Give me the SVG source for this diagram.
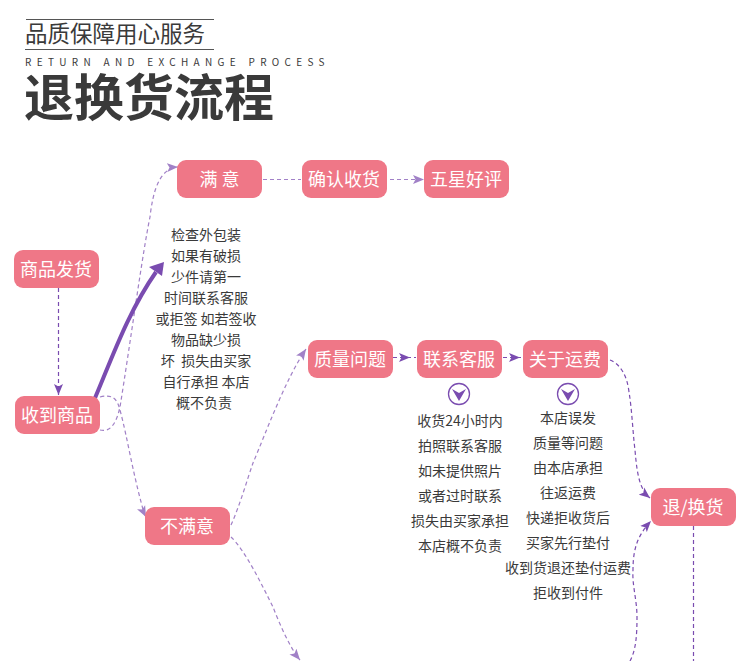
<svg xmlns="http://www.w3.org/2000/svg" width="750" height="661" viewBox="0 0 750 661">
<style>
text{font-family:"Noto Sans CJK SC","Noto Sans",sans-serif}
.n rect{fill:#ef7787}
.n text{fill:#fff;font-size:18px;text-anchor:middle}
.b{fill:#3a3a3a;font-size:14px;text-anchor:middle}
.c{fill:none;stroke:#7a4cb0;stroke-width:1.2;stroke-dasharray:4 3}
.l{opacity:.7}
.i circle{fill:#fff;stroke:#7a4cb0;stroke-width:1.3}
.i path{fill:#7a4cb0}
</style>
<defs>
<marker id="a" markerWidth="12" markerHeight="10" refX="11" refY="5" orient="auto" markerUnits="userSpaceOnUse"><path d="M0 .5L11 5L0 9.500L2.500 5Z" fill="#7a4cb0"/></marker>
</defs>
<g id="title">
<path d="M26 19.500H214M25 49.500H214" stroke="#555" stroke-width="1" fill="none"/>
<text x="25" y="42" font-size="22.500" fill="#3a3a3a">品质保障用心服务</text>
<text x="25" y="66" font-size="10" fill="#3a3a3a" letter-spacing="5.320">RETURN AND EXCHANGE PROCESS</text>
<text x="24" y="116" font-size="50" font-weight="700" fill="#3a3a3a">退换货流程</text>
</g>
<g id="connectors">
<path class="c" d="M58.500 288V395" marker-end="url(#a)"/>
<path d="M95 398C112 358 128 312 156 272" fill="none" stroke="#7a4cb0" stroke-width="4"/>
<path d="M164 262L149 267L162 276Z" fill="#7a4cb0"/>
<path class="c l" d="M100 430C112 433 117 420 120 407C130 345 143 250 150 217C153 190 160 168 178 167" marker-end="url(#a)"/>
<path class="c l" d="M100 397C112 394 117 398 120 410C128 440 132 470 144 513L146 517" marker-end="url(#a)"/>
<path class="c l" d="M263 179.500H301"/>
<path class="c l" d="M390 179.500H424" marker-end="url(#a)"/>
<path class="c l" d="M231 525C240 505 247 480 253 463C265 435 285 380 306 349" marker-end="url(#a)"/>
<path class="c l" d="M231 537C245 550 262 585 273 607C280 625 290 648 300 660" marker-end="url(#a)"/>
<path class="c" d="M393 357.500H410L416 357.500" marker-mid="url(#a)"/>
<path class="c" d="M503 357.500H520L522 357.500" marker-mid="url(#a)"/>
<path class="c" d="M610 360C620 364 627 375 629 392C632 410 633 435 635 450C637 475 640 490 650 498" marker-end="url(#a)"/>
<path class="c" d="M630 661C636 650 637 635 637 617C637 600 632 585 633 570C633 548 638 535 651 521" marker-end="url(#a)"/>
<path class="c" d="M693.500 526V661"/>
</g>
<g id="n1" class="n"><rect x="14" y="250" width="85" height="38" rx="9"/><text x="56" y="275.500">商品发货</text></g>
<g id="n2" class="n"><rect x="15" y="396" width="85" height="38" rx="9"/><text x="57" y="421.500">收到商品</text></g>
<g id="n3" class="n"><rect x="177" y="160" width="85" height="38" rx="9"/><text x="219.500" y="185.500">满 意</text></g>
<g id="n4" class="n"><rect x="302" y="160" width="85" height="38" rx="9"/><text x="344" y="185.500">确认收货</text></g>
<g id="n5" class="n"><rect x="424" y="160" width="85" height="38" rx="9"/><text x="466" y="185.500">五星好评</text></g>
<g id="n6" class="n"><rect x="145" y="507" width="85" height="38" rx="9"/><text x="187" y="532.500">不满意</text></g>
<g id="n7" class="n"><rect x="308" y="340" width="85" height="38" rx="9"/><text x="350" y="365.500">质量问题</text></g>
<g id="n8" class="n"><rect x="417" y="340" width="85" height="38" rx="9"/><text x="459" y="365.500">联系客服</text></g>
<g id="n9" class="n"><rect x="523" y="340" width="85" height="38" rx="9"/><text x="565" y="365.500">关于运费</text></g>
<g id="n10" class="n"><rect x="651" y="488" width="85" height="38" rx="9"/><text x="693" y="513.500">退/换货</text></g>
<g id="i1" class="i"><circle cx="459" cy="394" r="10.500"/><path d="M452 389L459 393L466 389L459 401Z"/></g>
<g id="i2" class="i"><circle cx="568" cy="394" r="10.500"/><path d="M561 389L568 393L575 389L568 401Z"/></g>
<g id="t1" class="b">
<text class="b" x="206" y="240">检查外包装</text>
<text class="b" x="206" y="261">如果有破损</text>
<text class="b" x="206" y="282">少件请第一</text>
<text class="b" x="206" y="303">时间联系客服</text>
<text class="b" x="206" y="324">或拒签 如若签收</text>
<text class="b" x="206" y="345">物品缺少损</text>
<text class="b" x="206" y="366">坏&#160;&#160;损失由买家</text>
<text class="b" x="206" y="387">自行承担 本店</text>
<text class="b" x="204" y="408">概不负责</text>
</g>
<g id="t2" class="b">
<text class="b" x="460" y="426">收货24小时内</text>
<text class="b" x="460" y="451">拍照联系客服</text>
<text class="b" x="460" y="476">如未提供照片</text>
<text class="b" x="460" y="501">或者过时联系</text>
<text class="b" x="460" y="526">损失由买家承担</text>
<text class="b" x="460" y="551">本店概不负责</text>
</g>
<g id="t3" class="b">
<text class="b" x="568" y="423">本店误发</text>
<text class="b" x="568" y="448">质量等问题</text>
<text class="b" x="568" y="473">由本店承担</text>
<text class="b" x="568" y="498">往返运费</text>
<text class="b" x="568" y="523">快递拒收货后</text>
<text class="b" x="568" y="548">买家先行垫付</text>
<text class="b" x="568" y="573">收到货退还垫付运费</text>
<text class="b" x="568" y="598">拒收到付件</text>
</g>
</svg>
